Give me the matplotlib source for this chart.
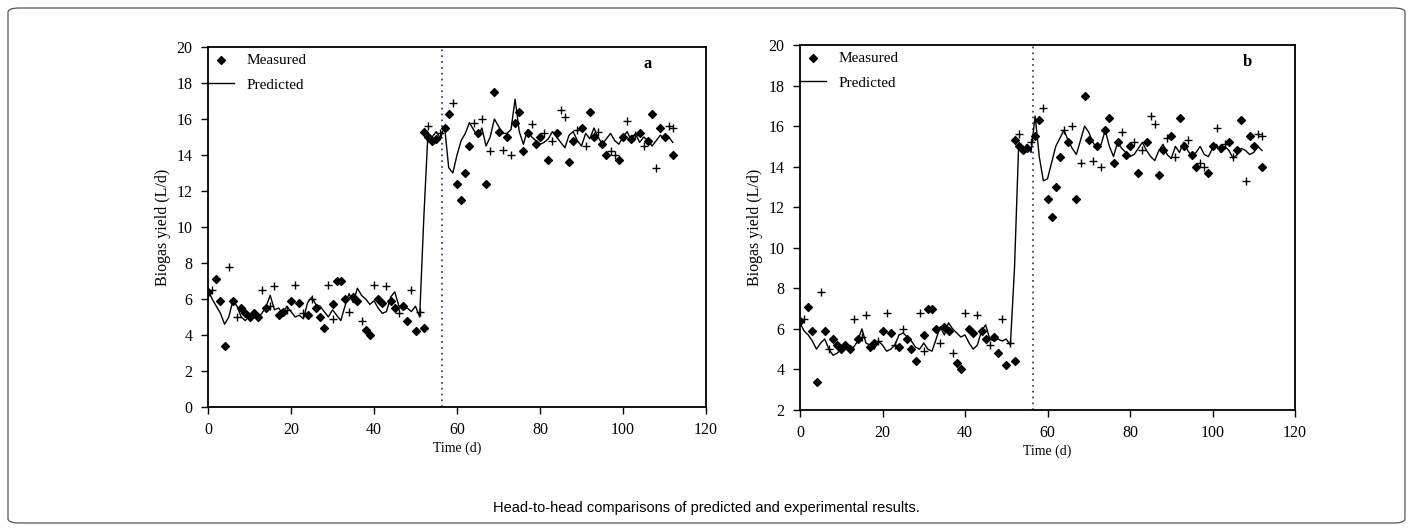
import matplotlib
matplotlib.use("Agg")
import matplotlib.pyplot as plt
from matplotlib.patches import FancyBboxPatch

# ---------------- data ----------------
days = list(range(0, 113))

predicted_a = [
    6.5, 6.0, 5.6, 5.2, 4.6, 5.0, 5.9, 5.6, 5.0, 4.8,
    5.1, 5.3, 5.0, 5.2, 5.6, 6.2, 5.4, 5.5, 5.2, 5.6,
    5.3, 5.0, 5.1, 4.9, 5.8, 6.1, 5.7, 5.6, 5.3, 5.0,
    5.4, 5.1, 4.8, 5.6, 6.3, 5.8, 6.6, 6.2, 6.0, 5.7,
    5.9, 5.5, 5.2, 5.3, 6.1, 6.4, 5.6, 5.4, 5.5, 5.3,
    5.6, 5.0, 10.5,
    15.2, 15.0, 15.3, 14.9, 15.6, 13.3, 13.0, 14.0, 14.8, 15.2,
    15.8, 15.4, 15.0, 15.5, 14.5, 15.0, 16.0, 15.6, 15.2, 15.2,
    15.4, 17.1, 15.3, 14.6, 15.4, 15.0, 14.8, 14.6, 14.7, 14.9,
    15.3, 15.0, 14.7, 14.4, 15.1, 15.3, 14.8, 14.5, 15.2, 14.9,
    15.5, 15.0, 14.6, 14.9, 15.2, 14.8, 14.6, 15.0, 15.3, 14.8,
    15.2, 14.7, 15.0, 14.8, 14.5, 14.8, 15.1, 14.9, 15.0, 14.7,
]

predicted_b = [
    6.3, 5.9, 5.7, 5.4, 5.0, 5.3, 5.5, 5.0, 4.7, 4.8,
    5.0, 5.2, 4.9, 5.1, 5.4, 6.0, 5.3, 5.2, 5.0, 5.4,
    5.2, 4.9, 5.0, 5.2, 5.7, 5.8, 5.6, 5.4, 5.1, 5.0,
    5.3, 5.0, 4.9, 5.5, 6.1, 5.7, 6.3, 6.0, 5.8, 5.6,
    5.7, 5.3, 5.0, 5.2, 5.9, 6.2, 5.5, 5.4, 5.5, 5.4,
    5.5, 5.2, 9.0,
    15.0, 14.8, 15.1, 14.7, 16.5, 14.5, 13.3, 13.4, 14.2, 15.0,
    15.4, 15.8, 15.3, 14.9, 14.6, 15.3, 16.0, 15.7, 15.2, 14.9,
    15.1, 15.8, 15.0, 14.5, 15.2, 14.9, 14.7, 14.5, 14.6, 14.9,
    15.2, 14.8, 14.5, 14.3, 14.8, 15.1, 14.6, 14.4, 15.0, 14.7,
    15.2, 14.8, 14.5, 14.7, 15.0, 14.6, 14.5, 14.9, 15.1, 14.7,
    15.0, 14.8, 14.4, 14.6, 14.9, 14.8, 14.6, 14.7, 15.0, 14.8,
]

meas_diamond_days = [0, 2, 3, 4, 6, 8, 9, 10, 11, 12, 14, 17, 18, 20, 22, 24, 26, 27, 28, 30,
                     31, 32, 33, 35, 36, 38, 39, 41, 42, 44, 45, 47, 48, 50, 52,
                     52, 53, 54, 55, 57, 58, 60, 61, 62, 63, 65, 67, 69, 70, 72, 74, 75, 76, 77,
                     79, 80, 82, 84, 87, 88, 90, 92, 93, 95, 96, 99, 100, 102, 104, 106, 107,
                     109, 110, 112]
meas_diamond_vals = [6.4, 7.1, 5.9, 3.4, 5.9, 5.5, 5.2, 5.0, 5.2, 5.0, 5.5, 5.1, 5.3, 5.9, 5.8,
                     5.1, 5.5, 5.0, 4.4, 5.7, 7.0, 7.0, 6.0, 6.1, 5.9, 4.3, 4.0, 6.0, 5.8, 5.9,
                     5.5, 5.6, 4.8, 4.2, 4.4,
                     15.3, 15.0, 14.8, 14.9, 15.5, 16.3, 12.4, 11.5, 13.0, 14.5, 15.2, 12.4,
                     17.5, 15.3, 15.0, 15.8, 16.4, 14.2, 15.2, 14.6, 15.0, 13.7, 15.2, 13.6,
                     14.8, 15.5, 16.4, 15.0, 14.6, 14.0, 13.7, 15.0, 14.9, 15.2, 14.8, 16.3,
                     15.5, 15.0, 14.0]

meas_plus_days = [1, 5, 7, 13, 15, 16, 19, 21, 23, 25, 29, 30, 34, 37, 40, 43, 46, 49, 51,
                  53, 56, 59, 64, 66, 68, 71, 73, 78, 81, 83, 85, 86, 89, 91, 94, 97, 98,
                  101, 103, 105, 108, 111, 112]
meas_plus_vals = [6.5, 7.8, 5.0, 6.5, 5.6, 6.7, 5.4, 6.8, 5.2, 6.0, 6.8, 4.9, 5.3, 4.8, 6.8,
                  6.7, 5.2, 6.5, 5.3,
                  15.6, 15.2, 16.9, 15.8, 16.0, 14.2, 14.3, 14.0, 15.7, 15.2, 14.8, 16.5,
                  16.1, 15.4, 14.5, 15.3, 14.2, 14.0, 15.9, 15.1, 14.5, 13.3, 15.6, 15.5]

switch_day = 56.5
x_ticks = [0, 20, 40, 60, 80, 100, 120]
panels = [
    {"label": "a", "pred": predicted_a, "ylim": (0, 20), "yticks": list(range(0, 21, 2))},
    {"label": "b", "pred": predicted_b, "ylim": (2, 20), "yticks": list(range(2, 21, 2))},
]
caption = "Head-to-head comparisons of predicted and experimental results."

# ---------------- figure ----------------
W, H = 1413, 531
fig = plt.figure(figsize=(W / 100, H / 100), dpi=100)
serif = ["Liberation Serif", "DejaVu Serif"]

# outer rounded frame
frame = FancyBboxPatch((8 / W, 8 / H), (W - 16) / W, (H - 16) / H,
                       boxstyle="round,pad=0,rounding_size=0.008",
                       transform=fig.transFigure, fill=False, edgecolor="#555555", lw=0.9)
fig.patches.append(frame)

axes_rects = [
    (208 / W, (H - 407) / H, 498 / W, 360 / H),
    (800 / W, (H - 410) / H, 495 / W, 365 / H),
]
label_pos = [(0.875, 0.975), (0.895, 0.975)]

for rect, p, lp in zip(axes_rects, panels, label_pos):
    ax = fig.add_axes(rect)
    ax.plot(days, p["pred"], color="black", lw=1.0, label="Predicted", zorder=3)
    ax.scatter(meas_diamond_days, meas_diamond_vals, marker="D", s=16, color="black",
               label="Measured", zorder=4)
    ax.scatter(meas_plus_days, meas_plus_vals, marker="+", s=40, color="black",
               linewidths=1.0, zorder=4)
    ax.axvline(switch_day, color="#1f2a7a", lw=1.2, ls=(0, (1, 2.5)), zorder=2)
    ax.set_xlim(0, 120)
    ax.set_ylim(*p["ylim"])
    ax.set_xticks(x_ticks)
    ax.set_yticks(p["yticks"])
    ax.tick_params(direction="out", length=5, width=1.0, labelsize=11.5, pad=6)
    for lab in ax.get_xticklabels() + ax.get_yticklabels():
        lab.set_family(serif)
    for s in ax.spines.values():
        s.set_linewidth(1.3)
    ax.set_ylabel("Biogas yield (L/d)", family=serif, fontsize=11.5, labelpad=4)
    ax.set_xlabel("Time (d)", family=serif, fontsize=10, labelpad=2)
    ax.text(lp[0], lp[1], p["label"], transform=ax.transAxes, family=serif,
            fontsize=12, fontweight="bold", va="top", ha="left")
    handles, labels = ax.get_legend_handles_labels()
    order = [labels.index("Measured"), labels.index("Predicted")]
    ax.legend([handles[i] for i in order], [labels[i] for i in order],
              loc="upper left", bbox_to_anchor=(-0.03, 1.02), frameon=False,
              prop={"family": serif, "size": 11}, labelspacing=0.7,
              handlelength=1.8, handletextpad=0.8)

fig.text(0.5, (H - 508) / H, caption, ha="center", va="center",
         family=["Liberation Sans", "DejaVu Sans"], fontsize=10.5)

fig.savefig("out.png", dpi=100)
